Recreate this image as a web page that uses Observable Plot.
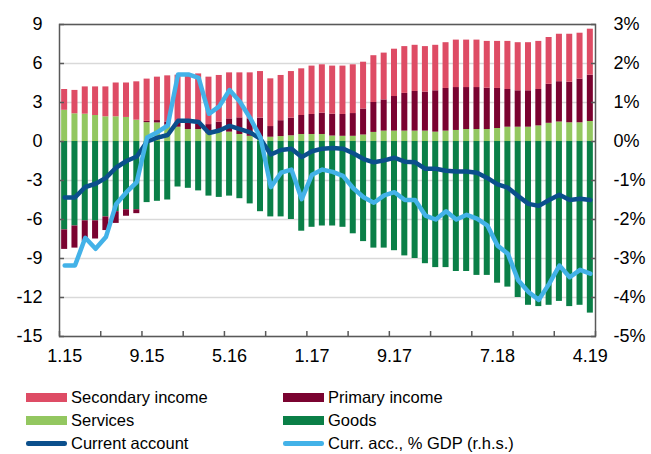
<!DOCTYPE html>
<html><head><meta charset="utf-8">
<script src="https://cdn.jsdelivr.net/npm/d3@7"></script>
<script src="https://cdn.jsdelivr.net/npm/@observablehq/plot@0.6"></script>
<style>
body{margin:0;background:#fff;font-family:"Liberation Sans",Arial,sans-serif;}
#chart svg{display:block}
#legend{display:grid;grid-template-columns:257px 300px;grid-auto-rows:23px;padding:16px 0 0 26px;font-size:16.5px;color:#000;}
.item{display:flex;align-items:center;white-space:nowrap}
.sw{width:41px;height:9px;margin-right:4px;flex:none}
.ln{width:41px;height:4.5px;border-radius:2.25px;margin-right:4px;flex:none}
</style></head><body>
<div id="chart"></div>
<div id="legend"></div>
<script>
// Monthly data Jan 2015 – Apr 2019 (52 months)
const goods = [-6.8,-6.5,-6.1,-6.1,-5.8,-5.4,-5.25,-5.25,-4.7,-4.6,
  -4.5,-3.5,-3.6,-3.8,-4.2,-4.3,-4.2,-4.4,-4.8,-5.4,
  -5.8,-5.8,-6.0,-6.9,-6.6,-6.5,-6.5,-6.6,-7.1,-7.7,
  -8.2,-8.2,-8.4,-8.8,-9.0,-9.4,-9.7,-9.7,-10.0,-10.0,
  -10.3,-10.3,-10.9,-11.2,-12.0,-12.6,-12.7,-12.6,-12.3,-12.7,
  -12.6,-13.2];
const services = [2.4,2.13,2.1,2.0,1.9,1.9,1.85,1.64,1.45,1.43,
  1.25,1.1,0.92,0.92,0.6,0.72,0.72,0.54,0.4,0.33,
  0.33,0.38,0.44,0.54,0.54,0.54,0.42,0.4,0.4,0.5,
  0.7,0.8,0.8,0.8,0.8,0.8,0.72,0.8,0.85,0.92,
  0.92,0.92,1.0,1.1,1.1,1.1,1.2,1.4,1.5,1.44,
  1.44,1.54];
const primary = [-1.5,-1.7,-1.6,-1.4,-1.05,-0.9,-0.5,-0.3,0.1,0.18,
  0.25,0.3,0.48,0.45,0.7,0.77,1.02,1.28,1.34,1.47,
  0.82,1.22,1.36,1.46,1.54,1.64,1.68,1.68,1.75,2.0,
  2.3,2.4,2.66,2.9,3.05,3.0,3.18,3.28,3.3,3.23,
  3.23,3.18,3.08,2.9,2.8,2.8,2.8,3.0,3.1,3.12,
  3.36,3.56];
const secondary = [1.6,1.8,2.1,2.2,2.3,2.6,2.65,2.95,3.25,3.34,
  3.55,3.7,3.7,3.83,3.65,3.59,3.54,3.46,3.54,3.58,
  3.67,3.48,3.58,3.59,3.72,3.72,3.7,3.72,3.75,3.6,
  3.6,3.6,3.64,3.6,3.55,3.5,3.5,3.52,3.65,3.65,
  3.65,3.6,3.62,3.7,3.7,3.7,3.7,3.6,3.65,3.69,
  3.53,3.54];
const currentAccount = [-4.3,-4.3,-3.5,-3.25,-2.8,-2.0,-1.5,-1.15,0.0,0.3,
  0.5,1.6,1.6,1.5,0.65,0.85,1.2,0.95,0.7,0.2,
  -1.0,-0.65,-0.55,-1.2,-0.75,-0.55,-0.5,-0.55,-0.9,-1.35,
  -1.6,-1.45,-1.25,-1.55,-1.6,-2.1,-2.1,-2.25,-2.3,-2.3,
  -2.4,-2.8,-3.3,-3.55,-4.2,-4.8,-4.95,-4.5,-4.1,-4.5,
  -4.4,-4.5];
const currAccPctGDP = [-3.18,-3.18,-2.47,-2.75,-2.45,-1.6,-1.3,-1.04,0.1,0.24,
  0.41,1.72,1.72,1.63,0.71,0.9,1.32,1.02,0.6,0.1,
  -1.17,-0.8,-0.72,-1.48,-0.85,-0.72,-0.78,-0.88,-1.2,-1.43,
  -1.57,-1.38,-1.3,-1.5,-1.5,-1.9,-2.0,-1.79,-2.0,-1.88,
  -1.98,-2.15,-2.67,-2.88,-3.56,-3.86,-4.06,-3.65,-3.18,-3.48,
  -3.29,-3.39];

const seriesNames = ["Secondary income","Primary income","Services","Goods"];
const seriesColors = ["#de4c65","#7a0330","#93c760","#0a7f47"];
const lineNames = ["Current account","Curr. acc., % GDP (r.h.s.)"];
const lineColors = ["#0b4f8c","#43b2e8"];
const yTicks = [-15,-12,-9,-6,-3,0,3,6,9];
const xTickLabels = ["1.15","9.15","5.16","1.17","9.17","7.18","4.19"];

const months = d3.range(goods.length).map(i => `${(i % 12) + 1}.${15 + Math.floor(i / 12)}`);
const stackOrder = [["Goods", goods], ["Services", services], ["Primary income", primary], ["Secondary income", secondary]];
const bars = stackOrder.flatMap(([name, vals]) => vals.map((v, i) => ({i, series: name, value: v})));
const rows = months.map((m, i) => ({i, month: m, ca: currentAccount[i], pct: currAccPctGDP[i]}));
const labelPos = xTickLabels.map(l => months.indexOf(l) + 0.5);
const boundaryTicks = d3.range(0, months.length + 1, 4);

const axisColor = "#595959";
const font = "'Liberation Sans', Arial, sans-serif";

const chart = Plot.plot({
  width: 651, height: 370,
  marginLeft: 59, marginRight: 56, marginTop: 24, marginBottom: 34,
  style: {fontFamily: font, fontSize: "18px", color: "#000", background: "#fff"},
  x: {domain: [0, months.length], label: null},
  y: {domain: [-15, 9], label: null},
  color: {domain: seriesNames, range: seriesColors},
  marks: [
    Plot.gridY(yTicks, {stroke: "#d9d9d9", strokeOpacity: 1, strokeWidth: 1.5}),
    Plot.rectY(bars, {x1: d => d.i, x2: d => d.i + 1, y: "value", fill: "series", insetLeft: 2.15, insetRight: 2.15}),
    Plot.line(rows, {x: d => d.i + 0.5, y: "ca", stroke: lineColors[0], strokeWidth: 4.5, strokeLinejoin: "round"}),
    Plot.line(rows, {x: d => d.i + 0.5, y: d => d.pct * 3, stroke: lineColors[1], strokeWidth: 4.5, strokeLinejoin: "round"}),
    Plot.frame({stroke: axisColor, strokeWidth: 1.5}),
    Plot.axisY(yTicks, {anchor: "left", tickSize: -5, tickPadding: 22, stroke: axisColor, strokeWidth: 1.5, tickFormat: d => String(d), fontSize: 18, fill: "#000"}),
    Plot.axisY(yTicks, {anchor: "right", tickSize: -5, tickPadding: 23, stroke: axisColor, strokeWidth: 1.5, tickFormat: d => `${d / 3}%`, fontSize: 18, fill: "#000"}),
    Plot.axisX(boundaryTicks, {anchor: "bottom", tickSize: -5, stroke: axisColor, strokeWidth: 1.5, tickFormat: () => ""}),
    Plot.axisX(labelPos, {anchor: "bottom", tickSize: 0, tickPadding: 13, tickFormat: d => months[d - 0.5], fontSize: 18, fill: "#000"})
  ]
});
document.getElementById("chart").append(chart);

const legendItems = [
  {name: "Secondary income", color: seriesColors[0], kind: "sw"},
  {name: "Primary income", color: seriesColors[1], kind: "sw"},
  {name: "Services", color: seriesColors[2], kind: "sw"},
  {name: "Goods", color: seriesColors[3], kind: "sw"},
  {name: lineNames[0], color: lineColors[0], kind: "ln"},
  {name: lineNames[1], color: lineColors[1], kind: "ln"}
];
const legend = document.getElementById("legend");
for (const it of legendItems) {
  const d = document.createElement("div");
  d.className = "item";
  const s = document.createElement("span");
  s.className = it.kind;
  s.style.background = it.color;
  d.append(s, document.createTextNode(it.name));
  legend.append(d);
}
</script>
</body></html>
